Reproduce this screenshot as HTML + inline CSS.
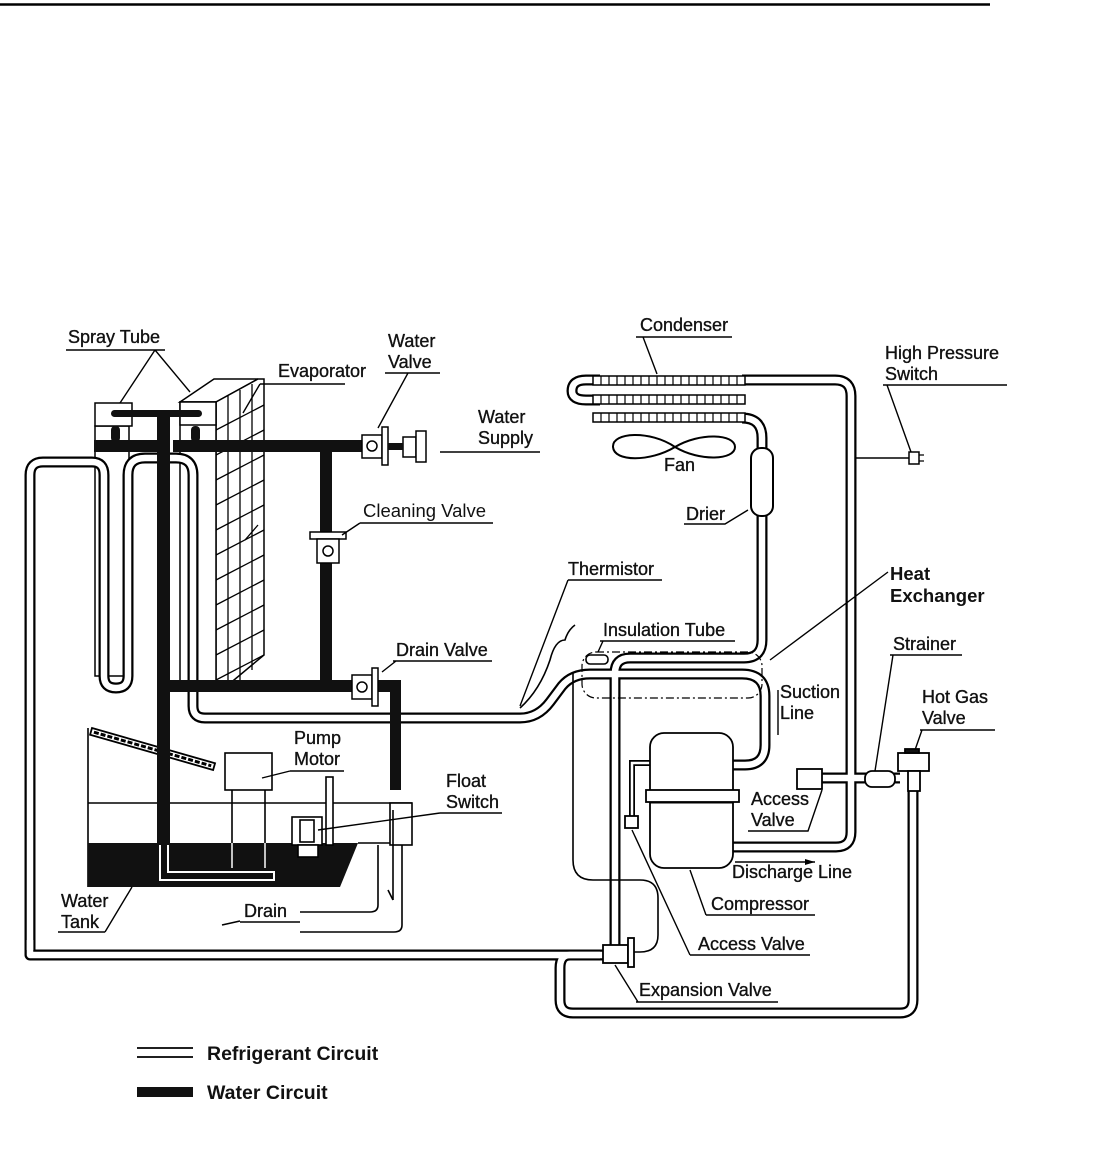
<!DOCTYPE html>
<html><head><meta charset="utf-8"><style>
html,body{margin:0;padding:0;background:#fff;}
svg{display:block;}
text{font-family:"Liberation Sans",Arial,sans-serif;font-size:18px;fill:#111;stroke:#111;stroke-width:0.35;}
.b{font-weight:bold;font-size:19.5px;stroke-width:0;}
</style></head><body>
<svg width="1115" height="1151" viewBox="0 0 1115 1151" xmlns="http://www.w3.org/2000/svg">
<defs>
<path id="t1" d="M30,950 V475 Q30,462 43,462 H92 Q104,462 104,475 V676 Q104,688 116,688 Q128,688 128,676 V475 Q128,458 145,458 H176 Q193,458 193,475 V706 Q193,718 205,718 H520 Q538,718 550,702 L562,686 Q572,674 590,674 H742 Q765,674 765,696 V745 Q765,765 745,765 H733"/>
<path id="t2" d="M30,940 V955 H608"/>
<path id="t3" d="M600,955 H570 Q560,955 560,968 V1000 Q560,1013 573,1013 H900 Q913,1013 913,1000 V790"/>
<path id="t4" d="M762,515 V640 Q762,658 744,658 H630 Q615,658 615,673 V950"/>
<path id="t5" d="M742,418 Q762,418 762,438 V452"/>
<path id="t6" d="M742,380 H835 Q851,380 851,396 V832 Q851,847 836,847 H733"/>
<path id="t7" d="M600,380 H586 Q572,380 572,391 Q572,400 586,400 H600"/>
<path id="t8" d="M822,778 H900"/>
<path id="t9" d="M650,763 H632 V817"/>
</defs>
<line x1="0" y1="4.5" x2="990" y2="4.5" stroke="#000" stroke-width="2.5"/>

<g stroke="#000" stroke-width="1.6" fill="none">
<path d="M88,728 V887"/>
<line x1="88" y1="803" x2="412" y2="803"/>
<rect x="390" y="803" width="22" height="42" fill="#fff"/>
<line x1="358" y1="843" x2="390" y2="843"/>
</g>
<polygon points="88,843 358,843 340,887 88,887" fill="#111"/>
<path d="M160,845 V880 H274 V872 H168 V845" fill="none" stroke="#fff" stroke-width="2"/>
<g stroke="#fff" stroke-width="1.5"><line x1="232" y1="843" x2="232" y2="868"/><line x1="265" y1="843" x2="265" y2="868"/></g>
<g stroke="#000" stroke-width="1.6" fill="none">
<line x1="232" y1="790" x2="232" y2="843"/><line x1="265" y1="790" x2="265" y2="843"/>
<rect x="225" y="753" width="47" height="37" fill="#fff"/>
<rect x="326" y="777" width="7" height="68" fill="#fff"/>
<rect x="292" y="817" width="30" height="28" fill="#fff"/>
<rect x="300" y="820" width="14" height="22" fill="#fff"/>
<rect x="298" y="845" width="20" height="12" fill="#fff"/>
<path d="M378,845 V905 Q378,912 370,912 H300"/>
<path d="M402,845 V925 Q402,932 394,932 H300"/>
<line x1="388" y1="890" x2="393" y2="900"/><line x1="393" y1="810" x2="393" y2="900"/>
<line x1="240" y1="921" x2="222" y2="925"/>
</g>
<g transform="translate(92,728) rotate(16)">
<rect x="0" y="0" width="128" height="7" fill="#fff" stroke="#000" stroke-width="1.8"/>
<line x1="3" y1="3.5" x2="125" y2="3.5" stroke="#000" stroke-width="3" stroke-dasharray="5,2"/>
</g>

<g stroke="#000" stroke-width="1.5" fill="#fff">
<rect x="95" y="426" width="34" height="250"/>
<polygon points="180,402 214,379 258,379 216,402"/>
<polygon points="216,402 258,379 264,379 264,655 222,690 216,690"/>
<rect x="180" y="402" width="36" height="288"/>
</g>
<g stroke="#000" stroke-width="1.3" fill="none">
<line x1="228" y1="396" x2="228" y2="690"/><line x1="240" y1="390" x2="240" y2="680"/><line x1="252" y1="384" x2="252" y2="670"/>
<path d="M216,430 L264,405 M216,455 L264,430 M216,480 L264,455 M216,505 L264,480 M216,530 L264,505 M216,555 L264,530 M216,580 L264,555 M216,605 L264,580 M216,630 L264,605 M216,655 L264,630 M216,680 L264,655"/>
<line x1="245" y1="540" x2="258" y2="525"/>
</g>

<g fill="none" stroke="#000" stroke-width="11" stroke-linejoin="round">
<use href="#t1"/><use href="#t2"/><use href="#t3"/><use href="#t4"/><use href="#t5"/><use href="#t6"/><use href="#t7"/><use href="#t8"/>
</g>
<g fill="none" stroke="#000" stroke-width="6"><use href="#t9"/></g>
<g fill="none" stroke="#fff" stroke-width="6.5" stroke-linejoin="round">
<use href="#t1"/><use href="#t2"/><use href="#t3"/><use href="#t4"/><use href="#t5"/><use href="#t6"/><use href="#t7"/><use href="#t8"/>
</g>
<g fill="none" stroke="#fff" stroke-width="2.5"><use href="#t9"/></g>

<g stroke="#000" stroke-width="1.5" fill="#fff">
<rect x="95" y="403" width="37" height="23"/>
<rect x="180" y="402" width="36" height="23"/>
</g>
<rect x="111" y="426" width="9" height="16" rx="4" fill="#111"/>
<rect x="191" y="426" width="9" height="16" rx="4" fill="#111"/>
<rect x="111" y="410" width="91" height="7" rx="3.5" fill="#111"/>

<g fill="#111">
<rect x="94" y="440" width="63" height="12"/>
<rect x="173" y="440" width="190" height="12"/>
<rect x="157" y="410" width="13" height="435"/>
<rect x="320" y="452" width="12" height="230"/>
<rect x="170" y="680" width="226" height="12"/>
<rect x="390" y="680" width="11" height="110"/>
</g>
<g stroke="#000" stroke-width="1.5" fill="#fff">
<rect x="362" y="435" width="20" height="23"/><circle cx="372" cy="446" r="5"/>
<rect x="382" y="427" width="6" height="38"/>
<rect x="403" y="437" width="13" height="20"/>
<rect x="416" y="431" width="10" height="31"/>
<rect x="310" y="532" width="36" height="7"/>
<rect x="317" y="539" width="22" height="24"/><circle cx="328" cy="551" r="5"/>
<rect x="352" y="675" width="20" height="24"/><circle cx="362" cy="687" r="5"/>
<rect x="372" y="668" width="6" height="38"/>
</g>
<rect x="388" y="443" width="15" height="7" fill="#111"/>

<g stroke="#000" stroke-width="1.5" fill="#fff">
<rect x="593" y="376" width="152" height="9"/>
<rect x="593" y="395" width="152" height="9"/>
<rect x="593" y="413" width="152" height="9"/>
</g>
<g stroke="#000" stroke-width="1.2">
<path d="M601,376v9M609,376v9M617,376v9M625,376v9M633,376v9M641,376v9M649,376v9M657,376v9M665,376v9M673,376v9M681,376v9M689,376v9M697,376v9M705,376v9M713,376v9M721,376v9M729,376v9M737,376v9"/>
<path d="M601,395v9M609,395v9M617,395v9M625,395v9M633,395v9M641,395v9M649,395v9M657,395v9M665,395v9M673,395v9M681,395v9M689,395v9M697,395v9M705,395v9M713,395v9M721,395v9M729,395v9M737,395v9"/>
<path d="M601,413v9M609,413v9M617,413v9M625,413v9M633,413v9M641,413v9M649,413v9M657,413v9M665,413v9M673,413v9M681,413v9M689,413v9M697,413v9M705,413v9M713,413v9M721,413v9M729,413v9M737,413v9"/>
</g>
<path d="M675,447 C650,430 612,432 613,447 C614,462 650,462 675,447 C700,432 735,434 735,447 C735,460 700,462 675,447 Z" fill="none" stroke="#000" stroke-width="2"/>
<rect x="751" y="448" width="22" height="68" rx="10" fill="#fff" stroke="#000" stroke-width="2"/>
<line x1="856" y1="458" x2="910" y2="458" stroke="#000" stroke-width="1.5"/>
<rect x="909" y="452" width="10" height="12" fill="#fff" stroke="#000" stroke-width="1.5"/>
<path d="M919,455 h5 M919,461 h5" stroke="#000" stroke-width="1.3"/>

<g stroke="#000" stroke-width="1.8" fill="#fff">
<rect x="650" y="733" width="83" height="135" rx="14"/>
<rect x="646" y="790" width="93" height="12"/>
<rect x="625" y="816" width="13" height="12"/>
<rect x="797" y="769" width="25" height="20"/>
<rect x="865" y="771" width="30" height="16" rx="7"/>
<rect x="898" y="753" width="31" height="18"/>
<rect x="908" y="771" width="12" height="20"/>
<rect x="905" y="749" width="14" height="4" fill="#111"/>
<rect x="603" y="945" width="25" height="18"/>
<rect x="628" y="938" width="6" height="29"/>
</g>
<line x1="650" y1="803" x2="733" y2="803" stroke="#000" stroke-width="1"/>
<g fill="none" stroke="#000" stroke-width="1.6">
<path d="M573,672 V860 Q573,880 593,880 H640 Q658,880 658,898 V935 Q658,952 640,952 H634"/>
<rect x="582" y="652" width="180" height="46" rx="14" stroke-dasharray="8,3,2,3" stroke-width="1.2"/>
<rect x="586" y="655" width="22" height="9" rx="4"/>
<path d="M520,708 Q540,690 550,660 Q555,640 565,640 Q568,630 575,625"/>
</g>

<g stroke="#000" stroke-width="1.4" fill="none">
<path d="M66,350 H165 M155,350 L120,403 M155,350 L190,392"/>
<path d="M260,384 H345 M260,384 L243,413"/>
<path d="M385,373 H440 M408,373 L378,428"/>
<path d="M440,452 H540"/>
<path d="M360,523 H493 M360,523 L342,535"/>
<path d="M393,661 H492 M396,661 L382,672"/>
<path d="M290,771 H344 M290,771 L262,778"/>
<path d="M440,813 H502 M440,813 L318,830"/>
<path d="M58,932 H105 M105,932 L132,887"/>
<path d="M240,922 H300"/>
<path d="M636,337 H732 M643,337 L657,374"/>
<path d="M883,385 H1007 M887,385 L911,452"/>
<path d="M684,524 H725 L748,510"/>
<path d="M568,580 H662 M568,580 L520,706"/>
<path d="M600,641 H735 M603,641 L598,652"/>
<path d="M888,572 L770,660"/>
<path d="M778,690 V735"/>
<path d="M890,655 H962 M893,655 L875,771"/>
<path d="M920,730 H995 M922,730 L915,750"/>
<path d="M748,831 H808 L822,790"/>
<path d="M735,862 H815"/>
<path d="M706,915 H815 M706,915 L690,870"/>
<path d="M690,955 H810 M690,955 L632,830"/>
<path d="M636,1002 H778 M638,1002 L615,965"/>
</g>
<polygon points="815,862 805,859 805,865" fill="#000"/>

<text x="68" y="343">Spray Tube</text>
<text x="278" y="377">Evaporator</text>
<text x="388" y="347">Water</text><text x="388" y="368">Valve</text>
<text x="478" y="423">Water</text><text x="478" y="444">Supply</text>
<text x="363" y="517" style="font-size:18.5px;stroke-width:0">Cleaning Valve</text>
<text x="396" y="656">Drain Valve</text>
<text x="294" y="744">Pump</text><text x="294" y="765">Motor</text>
<text x="446" y="787">Float</text><text x="446" y="808">Switch</text>
<text x="61" y="907">Water</text><text x="61" y="928">Tank</text>
<text x="244" y="917">Drain</text>
<text x="640" y="331">Condenser</text>
<text x="885" y="359">High Pressure</text><text x="885" y="380">Switch</text>
<text x="664" y="471">Fan</text>
<text x="686" y="520">Drier</text>
<text x="568" y="575">Thermistor</text>
<text x="603" y="636">Insulation Tube</text>
<text x="890" y="580" style="font-size:18.5px;font-weight:bold;stroke-width:0">Heat</text><text x="890" y="602" style="font-size:18.5px;font-weight:bold;stroke-width:0">Exchanger</text>
<text x="780" y="698">Suction</text><text x="780" y="719">Line</text>
<text x="893" y="650">Strainer</text>
<text x="922" y="703">Hot Gas</text><text x="922" y="724">Valve</text>
<text x="751" y="805">Access</text><text x="751" y="826">Valve</text>
<text x="732" y="878">Discharge Line</text>
<text x="711" y="910">Compressor</text>
<text x="698" y="950">Access Valve</text>
<text x="639" y="996">Expansion Valve</text>

<g stroke="#000" stroke-width="1.8"><line x1="137" y1="1048" x2="193" y2="1048"/><line x1="137" y1="1057" x2="193" y2="1057"/></g>
<rect x="137" y="1087" width="56" height="10" fill="#111"/>
<text x="207" y="1060" class="b">Refrigerant Circuit</text>
<text x="207" y="1099" class="b">Water Circuit</text>
</svg>
</body></html>
